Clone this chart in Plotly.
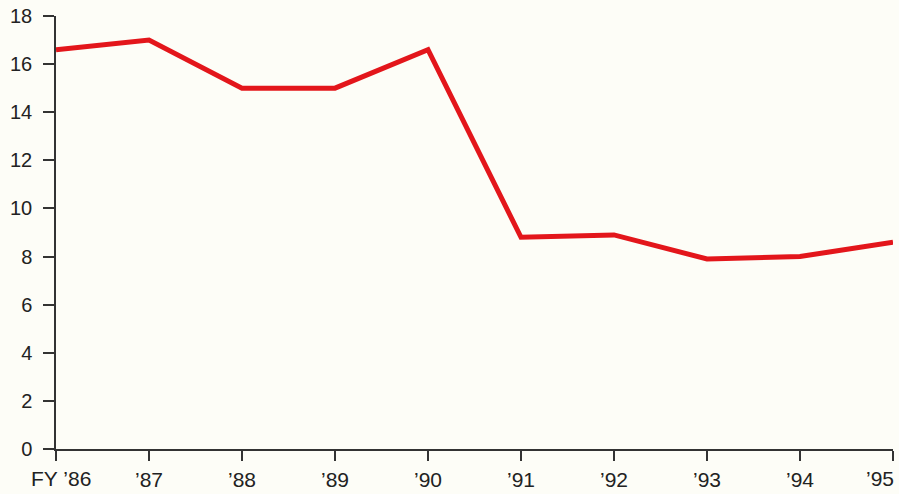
import plotly.graph_objects as go

# Fiscal-year series
years = ["FY \u201986", "\u201987", "\u201988", "\u201989", "\u201990",
         "\u201991", "\u201992", "\u201993", "\u201994", "\u201995"]
values = [16.6, 17.0, 15.0, 15.0, 16.6, 8.8, 8.9, 7.9, 8.0, 8.6]
y_ticks = [0, 2, 4, 6, 8, 10, 12, 14, 16, 18]

positions = list(range(len(years)))

fig = go.Figure()
fig.add_trace(go.Scatter(
    x=positions, y=values, mode="lines",
    line=dict(color="#e3161b", width=5),
    hoverinfo="skip", cliponaxis=False,
))

axis_color = "#333333"
family = "Liberation Sans, Arial, sans-serif"
x_font = dict(family=family, size=21, color="#222222")
y_font = dict(family=family, size=20, color="#222222")

# The first and last year labels sit at the plot edges, so they are drawn
# as annotations anchored inward; the rest are regular tick labels.
inner_text = [""] + years[1:-1] + [""]

fig.update_layout(
    width=899, height=494,
    margin=dict(l=56, r=6, t=16, b=45),
    paper_bgcolor="#fdfdf7", plot_bgcolor="#fdfdf7",
    showlegend=False,
)
fig.update_xaxes(
    range=[0, len(years) - 1],
    tickvals=positions, ticktext=inner_text, tickfont=x_font,
    showgrid=False, zeroline=False,
    showline=True, linecolor=axis_color, linewidth=1.5,
    ticks="outside", ticklen=10, tickwidth=1.5, tickcolor=axis_color,
    ticklabelstandoff=1, automargin=False,
)
fig.update_yaxes(
    range=[0, 18],
    tickvals=y_ticks, tickfont=y_font,
    showgrid=False, zeroline=False,
    showline=True, linecolor=axis_color, linewidth=1.5,
    ticks="outside", ticklen=11, tickwidth=1.5, tickcolor=axis_color,
    ticklabelstandoff=7, automargin=False,
)

edge_labels = [(positions[0], years[0], "left", -27),
               (positions[-1], years[-1], "right", 3)]
for xpos, text, anchor, shift in edge_labels:
    fig.add_annotation(
        x=xpos, xref="x", y=0, yref="paper",
        text=text, showarrow=False,
        xanchor=anchor, yanchor="top", xshift=shift, yshift=-16,
        font=x_font,
    )

fig.write_html("out.html")
